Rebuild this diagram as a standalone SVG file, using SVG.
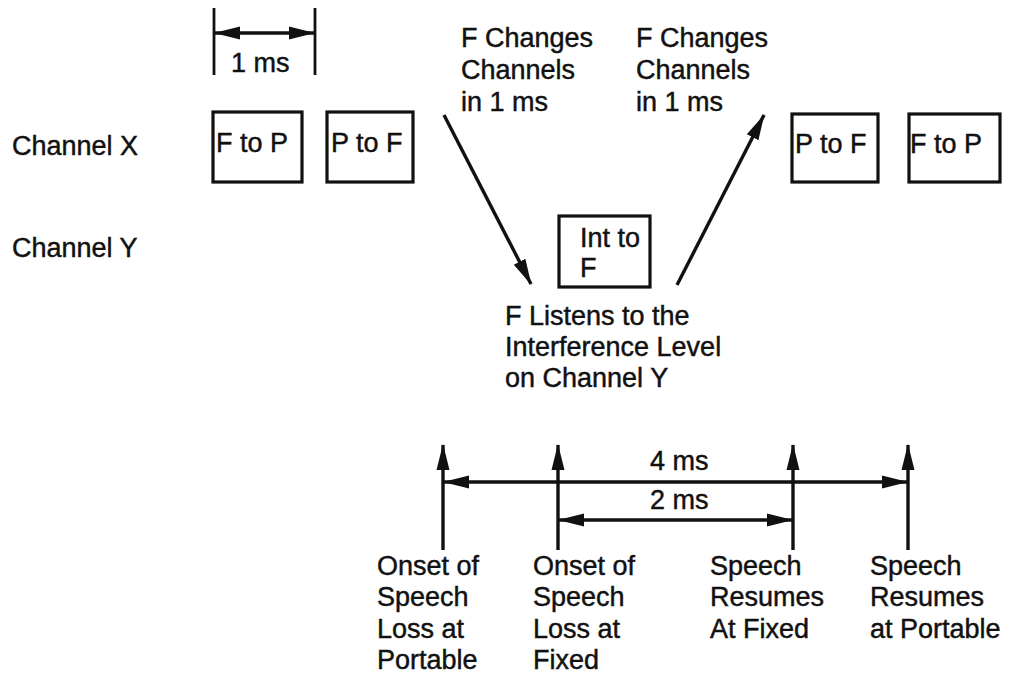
<svg xmlns="http://www.w3.org/2000/svg" width="1010" height="677" viewBox="0 0 1010 677">
<defs>
<style>
text{font-family:"Liberation Sans",Arial,sans-serif;font-size:27px;fill:#111;stroke:#111;stroke-width:0.45}
.box{fill:#fff;stroke:#111;stroke-width:3.2}
.ln{stroke:#111;stroke-width:3.4;fill:none}
.thin{stroke:#111;stroke-width:2.8;fill:none}
</style>
<marker id="ah" markerWidth="26" markerHeight="16" refX="25" refY="8" orient="auto-start-reverse" markerUnits="userSpaceOnUse">
<path d="M0,1.5 L26,8 L0,14.5 z" fill="#111"/>
</marker>
</defs>
<rect width="1010" height="677" fill="#fff"/>

<g id="labels">
<text x="12" y="155">Channel X</text>
<text x="12" y="257">Channel Y</text>
<text x="231" y="72">1 ms</text>
<text x="461"><tspan x="461" y="47">F Changes</tspan><tspan x="461" y="79">Channels</tspan><tspan x="461" y="111">in 1 ms</tspan></text>
<text x="636"><tspan x="636" y="47">F Changes</tspan><tspan x="636" y="79">Channels</tspan><tspan x="636" y="111">in 1 ms</tspan></text>
<text x="505"><tspan x="505" y="325">F Listens to the</tspan><tspan x="505" y="356">Interference Level</tspan><tspan x="505" y="387">on Channel Y</tspan></text>
<text x="650" y="470">4 ms</text>
<text x="650" y="509">2 ms</text>
<text><tspan x="377" y="575">Onset of</tspan><tspan x="377" y="606">Speech</tspan><tspan x="377" y="638">Loss at</tspan><tspan x="377" y="669">Portable</tspan></text>
<text><tspan x="533" y="575">Onset of</tspan><tspan x="533" y="606">Speech</tspan><tspan x="533" y="638">Loss at</tspan><tspan x="533" y="669">Fixed</tspan></text>
<text><tspan x="710" y="575">Speech</tspan><tspan x="710" y="606">Resumes</tspan><tspan x="710" y="638">At Fixed</tspan></text>
<text><tspan x="870" y="575">Speech</tspan><tspan x="870" y="606">Resumes</tspan><tspan x="870" y="638">at Portable</tspan></text>
</g>

<g id="x-f-to-p-1">
<rect class="box" x="213" y="112" width="89" height="70"/>
<text x="216" y="152">F to P</text>
</g>
<g id="x-p-to-f-1">
<rect class="box" x="327" y="112" width="86" height="70"/>
<text x="331" y="152">P to F</text>
</g>
<g id="y-int-to-f">
<rect class="box" x="559" y="216" width="91" height="71"/>
<text x="580" y="247">Int to</text>
<text x="580" y="277">F</text>
</g>
<g id="x-p-to-f-2">
<rect class="box" x="792" y="114" width="86" height="68"/>
<text x="795" y="153">P to F</text>
</g>
<g id="x-f-to-p-2">
<rect class="box" x="909" y="114" width="91" height="68"/>
<text x="910" y="153">F to P</text>
</g>

<g id="connectors">
<line class="thin" x1="214" y1="8" x2="214" y2="75"/>
<line class="thin" x1="315" y1="8" x2="315" y2="75"/>
<line class="ln" x1="215" y1="33" x2="314" y2="33" marker-start="url(#ah)" marker-end="url(#ah)"/>
<line class="ln" x1="444" y1="115" x2="531" y2="284" marker-end="url(#ah)"/>
<line class="ln" x1="677" y1="285" x2="764" y2="115" marker-end="url(#ah)"/>
<line class="ln" x1="443" y1="550" x2="443" y2="445" marker-end="url(#ah)"/>
<line class="ln" x1="558" y1="550" x2="558" y2="445" marker-end="url(#ah)"/>
<line class="ln" x1="793" y1="550" x2="793" y2="445" marker-end="url(#ah)"/>
<line class="ln" x1="908" y1="550" x2="908" y2="445" marker-end="url(#ah)"/>
<line class="ln" x1="444" y1="482" x2="907" y2="482" marker-start="url(#ah)" marker-end="url(#ah)"/>
<line class="ln" x1="559" y1="520" x2="792" y2="520" marker-start="url(#ah)" marker-end="url(#ah)"/>
</g>
</svg>
